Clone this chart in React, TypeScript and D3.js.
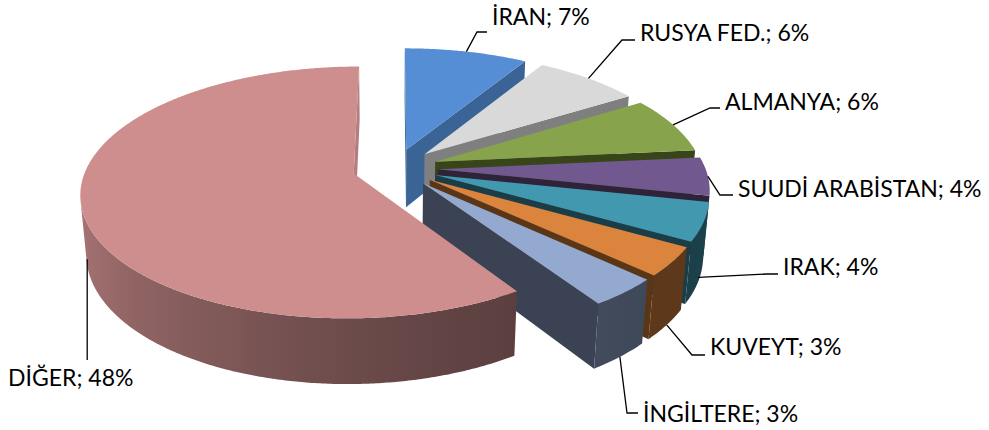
import React from 'react';
import * as d3 from 'd3';

// ---- data ----
const categories = ['İRAN', 'RUSYA FED.', 'ALMANYA', 'SUUDİ ARABİSTAN', 'IRAK', 'KUVEYT', 'İNGİLTERE', 'DİĞER'];
const values = [7, 6, 6, 4, 4, 3, 3, 48];

// ---- styles ----
const topColors = ['#558ED5', '#D9D9D9', '#87A34B', '#71588F', '#4198AF', '#DB843D', '#93A9CF', '#CE8E8E'];
const faceColors = ['#3A6495', '#7F7F7F', '#374519', '#2E2339', '#1B3D47', '#5A3616', '#3B4253', '#B47E7E'];

const WIDTH = 989;
const HEIGHT = 430;
const VIEW = { cx: 395, cy: 168, f: 1605, dist: 6, tilt: (27 * Math.PI) / 180, thickness: 0.25, explode: 0.16 };

// label layout: t = height fraction on the slice side for the leader start
const labelLayout = [
  { t: 0, elbow: [477, 32], textX: 492, baseline: 25 },
  { t: 0, elbow: [622, 40], textX: 640, baseline: 41 },
  { t: 0, elbow: [710, 108], textX: 725, baseline: 110 },
  { t: 0, elbow: [720, 195], textX: 738, baseline: 197 },
  { t: 0.9, elbow: [767, 274], textX: 783, baseline: 275 },
  { t: 1, elbow: [692, 355], textX: 710, baseline: 355 },
  { t: 1, elbow: [627, 413], textX: 643, baseline: 422 },
  { t: 0.8, elbow: null, dropTo: 360, textX: 8, baseline: 386 },
];

type V3 = [number, number, number];

function shade(color: string, alpha: number) {
  const k = Math.max(0.4, Math.min(0.9, 0.648 - 0.192 * Math.sin(alpha) + 0.118 * Math.cos(alpha)));
  const c = d3.rgb(color);
  return d3.rgb(c.r * k, c.g * k, c.b * k).formatHex();
}

export default function App() {
  const s = Math.sin(VIEW.tilt);
  const c = Math.cos(VIEW.tilt);
  const h = VIEW.thickness;
  const cam: V3 = [0, VIEW.dist * s, -VIEW.dist * c];
  const project = (p: V3) => {
    const [x, y, z] = p;
    const yc = y * c + z * s;
    const d = VIEW.dist - y * s + z * c;
    return [VIEW.cx + (VIEW.f * x) / d, VIEW.cy - (VIEW.f * yc) / d];
  };
  const dist = (pts: V3[]) => {
    const m = [0, 1, 2].map((k) => d3.mean(pts, (p) => p[k]) as number);
    return Math.hypot(m[0] - cam[0], m[1] - cam[1], m[2] - cam[2]);
  };
  const toPath = (pts: number[][]) => 'M' + pts.map((p) => p[0].toFixed(2) + ',' + p[1].toFixed(2)).join('L') + 'Z';

  const arcs = d3.pie<number>().sort(null).value((d) => d).startAngle(0).endAngle(2 * Math.PI)(values);

  const sides: { d: string; fill: string; depth: number }[] = [];
  const tops: { d: string; fill: string }[] = [];
  const grads: { id: string; x1: number; x2: number; stops: { o: number; c: string }[] }[] = [];
  const labels: { lines: number[][]; text: string; x: number; y: number }[] = [];
  const step = Math.PI / 360;

  arcs.forEach((a, i) => {
    const m = (a.startAngle + a.endAngle) / 2;
    const ox = VIEW.explode * Math.sin(m);
    const oz = VIEW.explode * Math.cos(m);
    const P = (ang: number, r: number, y: number): V3 => [ox + r * Math.sin(ang), y, oz + r * Math.cos(ang)];
    const n = Math.max(2, Math.ceil((a.endAngle - a.startAngle) / step));
    const angs = d3.range(n + 1).map((j) => a.startAngle + ((a.endAngle - a.startAngle) * j) / n);
    const visible = (nx: number, nz: number, p: V3) => nx * (cam[0] - p[0]) + nz * (cam[2] - p[2]) > 0;

    // top face
    const topPts = [P(0, 0, 0), ...angs.map((t) => P(t, 1, 0))].map(project);
    tops.push({ d: toPath(topPts), fill: topColors[i] });

    // radial faces
    ([[a.startAngle, -1], [a.endAngle, 1]] as [number, number][]).forEach(([ang, sgn]) => {
      const na = ang + (sgn * Math.PI) / 2;
      const v = P(0, 0, 0);
      if (!visible(Math.sin(na), Math.cos(na), v)) return;
      const quad: V3[] = [P(0, 0, 0), P(ang, 1, 0), P(ang, 1, -h), P(0, 0, -h)];
      sides.push({ d: toPath(quad.map(project)), fill: faceColors[i], depth: dist(quad) });
    });

    // outer curved side (visible contiguous part) with a horizontal gradient
    const vis = angs.filter((t) => visible(Math.sin(t), Math.cos(t), P(t, 1, 0)));
    if (vis.length >= 2) {
      const topA = vis.map((t) => P(t, 1, 0));
      const botA = vis.map((t) => P(t, 1, -h)).reverse();
      const pts2 = [...topA, ...botA].map(project);
      const xs = vis.map((t) => project(P(t, 1, -h / 2))[0]);
      const x1 = xs[0];
      const x2 = xs[xs.length - 1];
      const id = 'side' + i;
      const stops: { o: number; c: string }[] = [];
      vis.forEach((t, k) => {
        if (k % 6 === 0 || k === vis.length - 1) {
          stops.push({ o: Math.max(0, Math.min(1, (xs[k] - x1) / (x2 - x1 || 1))), c: shade(topColors[i], t) });
        }
      });
      grads.push({ id, x1, x2, stops });
      sides.push({ d: toPath(pts2), fill: `url(#${id})`, depth: dist([...topA, ...botA]) });
    }

    // label
    const L = labelLayout[i];
    const anchor = project(P(m, 1, -h * L.t));
    let lines: number[][];
    if (L.elbow) {
      lines = [anchor, L.elbow, [L.textX - 5, L.elbow[1]]];
    } else {
      lines = [anchor, [anchor[0], L.dropTo as number]];
    }
    labels.push({ lines, text: `${categories[i]}; ${values[i]}%`, x: L.textX, y: L.baseline });
  });

  sides.sort((p, q) => q.depth - p.depth);

  return (
    <svg
      width={WIDTH}
      height={HEIGHT}
      style={{ position: 'absolute', left: 0, top: 0, background: '#fff' }}
      fontFamily="Lato, 'Open Sans', sans-serif"
    >
      <defs>
        {grads.map((g) => (
          <linearGradient key={g.id} id={g.id} gradientUnits="userSpaceOnUse" x1={g.x1} y1={0} x2={g.x2} y2={0}>
            {g.stops.map((st, k) => (
              <stop key={k} offset={st.o} stopColor={st.c} />
            ))}
          </linearGradient>
        ))}
      </defs>
      <rect width={WIDTH} height={HEIGHT} fill="#fff" />
      <g>
        {sides.map((f, k) => (
          <path key={'s' + k} d={f.d} fill={f.fill} />
        ))}
      </g>
      <g>
        {tops.map((f, k) => (
          <path key={'t' + k} d={f.d} fill={f.fill} />
        ))}
      </g>
      <g>
        {labels.map((l, k) => (
          <g key={'l' + k}>
            <polyline
              points={l.lines.map((p) => p[0].toFixed(1) + ',' + p[1].toFixed(1)).join(' ')}
              fill="none"
              stroke="#000"
              strokeWidth={1.3}
            />
            <text x={l.x} y={l.y} fontSize={23} fill="#000">
              {l.text}
            </text>
          </g>
        ))}
      </g>
    </svg>
  );
}
